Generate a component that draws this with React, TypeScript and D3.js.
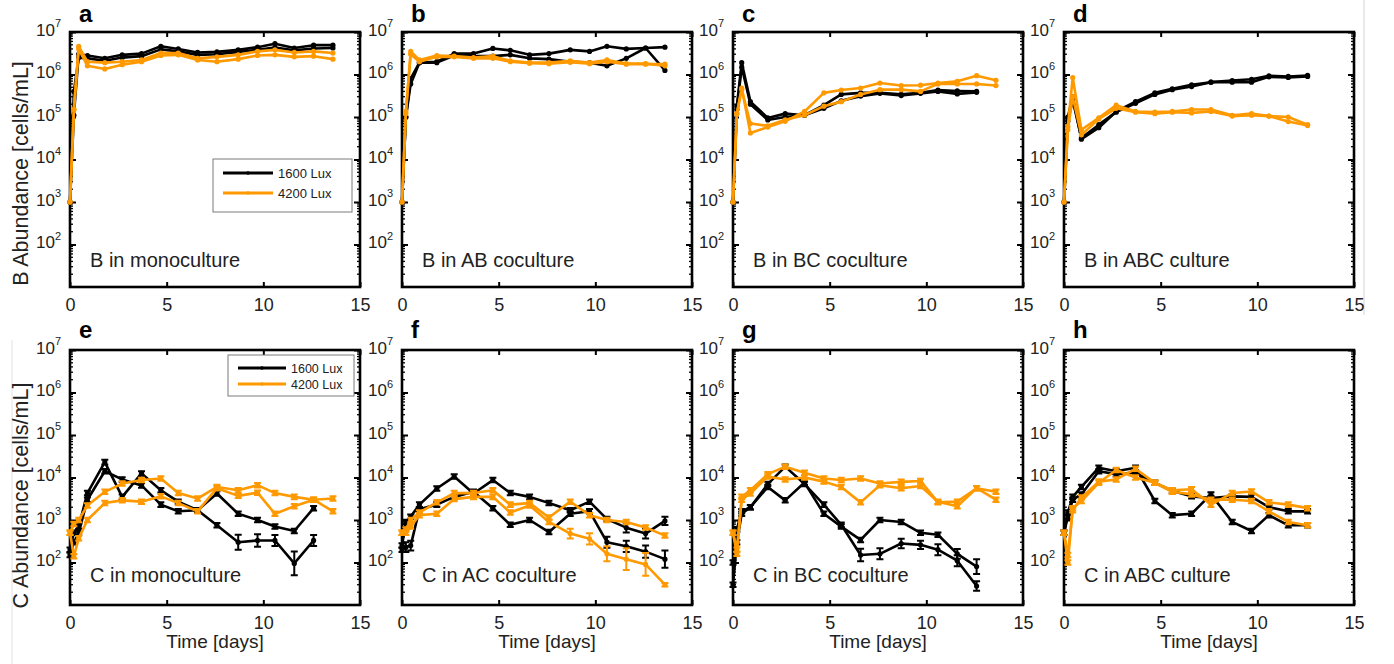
import React, { useEffect, useRef } from "react";
import * as d3 from "d3";

// sampling times [days]
const T = [0, 0.2, 0.45, 0.9, 1.8, 2.7, 3.7, 4.7, 5.6, 6.6, 7.6, 8.7, 9.7, 10.6, 11.6, 12.6, 13.6];

const xTicks = [0, 5, 10, 15];
const yTicks = [1e2, 1e3, 1e4, 1e5, 1e6, 1e7];
const legendLabels = ["1600 Lux", "4200 Lux"];

// ---- B abundance (top row)
const aBlack1 = [1e3, 1.1e5, 3.0e6, 2.8e6, 2.4e6, 2.9e6, 3.1e6, 4.6e6, 4.0e6, 3.3e6, 3.4e6, 3.8e6, 4.4e6, 5.3e6, 4.2e6, 4.9e6, 4.9e6];
const aBlack2 = [1e3, 4e5, 2.5e6, 2.4e6, 2.1e6, 2.5e6, 2.7e6, 3.9e6, 3.5e6, 2.9e6, 3.0e6, 3.4e6, 3.8e6, 4.3e6, 3.7e6, 4.1e6, 4.2e6];
const aOrange1 = [1e3, 1.5e5, 4.6e6, 2.0e6, 1.9e6, 2.0e6, 2.2e6, 3.2e6, 3.2e6, 2.4e6, 2.6e6, 2.9e6, 3.5e6, 3.8e6, 3.3e6, 3.5e6, 3.2e6];
const aOrange2 = [1e3, 1.5e5, 4.0e6, 1.6e6, 1.35e6, 1.7e6, 2.0e6, 2.8e6, 2.9e6, 2.2e6, 2.0e6, 2.3e6, 2.8e6, 2.9e6, 2.6e6, 2.7e6, 2.3e6];

const bBlack1 = [1e3, 1e5, 8e5, 1.9e6, 2.0e6, 3.1e6, 3.1e6, 4.1e6, 3.7e6, 2.9e6, 3.1e6, 3.8e6, 3.5e6, 4.6e6, 4.0e6, 4.2e6, 4.4e6];
const bBlack2 = [1e3, 1e5, 6e5, 1.9e6, 1.9e6, 2.8e6, 2.7e6, 2.7e6, 2.9e6, 2.4e6, 2.3e6, 2.0e6, 1.9e6, 1.6e6, 2.4e6, 4.2e6, 1.25e6];
const bOrange1 = [1e3, 1.35e5, 3.5e6, 2.2e6, 2.8e6, 2.7e6, 2.5e6, 2.7e6, 2.1e6, 1.9e6, 1.9e6, 2.1e6, 1.9e6, 2.2e6, 1.8e6, 1.8e6, 1.6e6];
const bOrange2 = [1e3, 1.2e5, 3.0e6, 2.0e6, 2.6e6, 2.6e6, 2.4e6, 2.4e6, 2.0e6, 1.85e6, 1.8e6, 1.95e6, 1.8e6, 2.0e6, 1.75e6, 1.75e6, 1.75e6];

const cBlack1 = [1e3, 1.8e5, 1.9e6, 2.3e5, 9.5e4, 1.2e5, 1.1e5, 1.9e5, 3.4e5, 3.7e5, 3.7e5, 3.4e5, 3.7e5, 4.3e5, 4.1e5, 4.0e5];
const cBlack2 = [1e3, 1.5e5, 1.5e6, 2.0e5, 8.5e4, 1.0e5, 1.1e5, 1.6e5, 2.4e5, 3.1e5, 3.6e5, 3.2e5, 3.6e5, 4.0e5, 3.5e5, 3.8e5];
const cOrange1 = [1e3, 1.2e5, 4.8e5, 4.2e4, 5.8e4, 7.9e4, 1.35e5, 3.7e5, 4.3e5, 4.8e5, 6.3e5, 5.5e5, 5.6e5, 6.3e5, 6.9e5, 9.4e5, 7.3e5];
const cOrange2 = [1e3, 1.2e5, 4.5e5, 7e4, 6.2e4, 8.6e4, 1.1e5, 1.8e5, 2.3e5, 3.4e5, 4.4e5, 4.4e5, 4.0e5, 6.0e5, 6.0e5, 6.0e5, 5.5e5];

const dBlack1 = [1e3, 1e5, 3e5, 3e4, 5.6e4, 1.35e5, 2.3e5, 3.7e5, 4.6e5, 5.7e5, 6.6e5, 7.2e5, 7.7e5, 9.3e5, 9.0e5, 9.5e5];
const dBlack2 = [1e3, 8e4, 2.5e5, 3.2e4, 6.6e4, 1.3e5, 2.1e5, 3.4e5, 4.4e5, 5.2e5, 6.6e5, 6.6e5, 6.6e5, 8.8e5, 8.5e5, 9.0e5];
const dOrange1 = [1e3, 6e4, 8.5e5, 5e4, 9.6e4, 1.9e5, 1.35e5, 1.3e5, 1.35e5, 1.5e5, 1.5e5, 1.1e5, 1.2e5, 1.05e5, 1.0e5, 6.6e4];
const dOrange2 = [1e3, 5e4, 3e5, 3.8e4, 9e4, 1.6e5, 1.3e5, 1.2e5, 1.3e5, 1.25e5, 1.35e5, 1.05e5, 1.1e5, 1.05e5, 7.8e4, 6.3e4];

// ---- C abundance (bottom row)
const eBlack1 = [2e2, 5e2, 7e2, 4.3e3, 2.3e4, 3.5e3, 1.25e4, 5e3, 2.7e3, 1.7e3, 4.2e3, 1.4e3, 1e3, 7e2, 5.5e2, 1.9e3];
const eBlack2 = [1.5e2, 3e2, 5e2, 3e3, 1.4e4, 9e3, 6.5e3, 2.3e3, 1.6e3, 1.7e3, 7.5e2, 3e2, 3.3e2, 3.3e2, 9.5e1, 3.3e2];
const eOrange1 = [5e2, 8e2, 1e3, 2.2e3, 4.6e3, 7.2e3, 8.7e3, 9.5e3, 4.3e3, 3.2e3, 6e3, 5e3, 6.6e3, 4.3e3, 3.5e3, 3e3, 3.2e3];
const eOrange2 = [5e2, 1.4e2, 3.7e2, 1e3, 2.5e3, 2.9e3, 2.7e3, 3.6e3, 2.5e3, 1.6e3, 5.6e3, 3.7e3, 4.4e3, 1.4e3, 2.1e3, 3e3, 1.6e3];

const fBlack1 = [2.5e2, 9e2, 1.2e3, 2.3e3, 5.5e3, 1.05e4, 4.2e3, 8.7e3, 4.3e3, 3.5e3, 2.5e3, 1.7e3, 2.7e3, 1.05e3, 6.6e2, 4.8e2, 9.5e2];
const fBlack2 = [2e2, 2.3e2, 2.5e2, 1.8e3, 2.3e3, 3.5e3, 4.6e3, 1.9e3, 7.7e2, 1e3, 5.2e2, 1.4e3, 1.6e3, 3e2, 2.4e2, 1.8e2, 1.2e2];
const fOrange1 = [5e2, 6e2, 1e3, 1.5e3, 2.6e3, 4.3e3, 4.3e3, 5e3, 2.3e3, 2.5e3, 1.15e3, 2.7e3, 1.3e3, 1e3, 9e2, 6.7e2, 4.3e2];
const fOrange2 = [5e2, 5e2, 7e2, 1.3e3, 1.4e3, 3.1e3, 3.5e3, 3.5e3, 1.5e3, 2.2e3, 9e2, 4.8e2, 3.6e2, 1.6e2, 1.2e2, 9e1, 3e1];

const gBlack1 = [1e2, 6e2, 1.6e3, 2e3, 6e3, 2.9e3, 7.6e3, 1.4e3, 7e2, 3.4e2, 1e3, 9e2, 5e2, 4.5e2, 1.6e2, 8e1];
const gBlack2 = [3e1, 3e2, 1.4e3, 2e3, 7e3, 1.8e4, 7e3, 2.3e3, 7.7e2, 1.5e2, 1.6e2, 2.8e2, 2.6e2, 2e2, 1.1e2, 2.8e1];
const gOrange1 = [5e2, 1.6e2, 3.5e3, 5e3, 1.2e4, 1.8e4, 1.3e4, 9.5e3, 8.7e3, 9.5e3, 7.2e3, 7.9e3, 8.3e3, 2.6e3, 2.7e3, 5.6e3, 4.6e3];
const gOrange2 = [5e2, 2e2, 3e3, 4.2e3, 1.05e4, 9e3, 1e4, 8e3, 6e3, 2.6e3, 6.6e3, 5.6e3, 6.3e3, 2.7e3, 2.1e3, 5.6e3, 3e3];

const hBlack1 = [5e2, 1.5e3, 3.5e3, 6e3, 1.7e4, 1.4e4, 1.7e4, 2.8e3, 1.3e3, 1.4e3, 4e3, 9e2, 5.5e2, 1.3e3, 7.5e2, 7.5e2];
const hBlack2 = [5e2, 1.2e3, 3e3, 4e3, 1.4e4, 1.2e4, 1.3e4, 7.5e3, 4.8e3, 3.6e3, 3.3e3, 3.6e3, 3.5e3, 2e3, 1.6e3, 1.6e3];
const hOrange1 = [5e2, 1e2, 1.9e3, 2.8e3, 7.5e3, 1.5e4, 1e4, 7.5e3, 5e3, 5.3e3, 2.3e3, 4.3e3, 4.7e3, 2.6e3, 2.3e3, 1.9e3];
const hOrange2 = [5e2, 1.5e2, 1.7e3, 3.4e3, 8e3, 9e3, 1.6e4, 7.5e3, 4.6e3, 4e3, 3e3, 3e3, 2.8e3, 1.6e3, 9e2, 7.5e2];

// error bar factors (multiplicative half-width) for bottom row, 0 = default
const eBlack2Err = [0, 0, 0, 0, 0, 0, 0, 0, 0, 0, 0, 1.5, 1.4, 1.35, 1.9, 1.35];
const fBlack1Err = [0, 0, 0, 0, 0, 0, 0, 0, 0, 0, 0, 0, 0, 0, 1.3, 1.3, 1.25];
const fBlack2Err = [0, 1.3, 1.3, 0, 0, 0, 0, 0, 0, 0, 0, 0, 0, 1.35, 1.35, 1.4, 1.6];
const fOrange2Err = [0, 0, 0, 0, 0, 0, 0, 0, 0, 0, 0, 1.3, 1.35, 1.5, 1.8, 1.85, 1.1];
const gBlack1Err = [0, 0, 0, 0, 0, 0, 0, 0, 0, 0, 0, 0, 0, 0, 1.3, 1.5];
const gBlack2Err = [0, 0, 0, 0, 0, 0, 0, 0, 0, 1.4, 1.35, 1.3, 1.25, 1.35, 1.35, 1.3];

const BLACK = "#000000";
const ORANGE = "#FF9900";
const FONT = "'Liberation Sans', Arial, Helvetica, sans-serif";

type Series = { v: number[]; color: string; err?: number[] };
type Panel = { letter: string; label: string; row: number; col: number; series: Series[] };

const panels: Panel[] = [
  { letter: "a", label: "B in monoculture", row: 0, col: 0, series: [
    { v: aBlack1, color: BLACK }, { v: aBlack2, color: BLACK }, { v: aOrange1, color: ORANGE }, { v: aOrange2, color: ORANGE }] },
  { letter: "b", label: "B in AB coculture", row: 0, col: 1, series: [
    { v: bBlack1, color: BLACK }, { v: bBlack2, color: BLACK }, { v: bOrange1, color: ORANGE }, { v: bOrange2, color: ORANGE }] },
  { letter: "c", label: "B in BC coculture", row: 0, col: 2, series: [
    { v: cBlack1, color: BLACK }, { v: cBlack2, color: BLACK }, { v: cOrange1, color: ORANGE }, { v: cOrange2, color: ORANGE }] },
  { letter: "d", label: "B in ABC culture", row: 0, col: 3, series: [
    { v: dBlack1, color: BLACK }, { v: dBlack2, color: BLACK }, { v: dOrange1, color: ORANGE }, { v: dOrange2, color: ORANGE }] },
  { letter: "e", label: "C in monoculture", row: 1, col: 0, series: [
    { v: eBlack1, color: BLACK }, { v: eBlack2, color: BLACK, err: eBlack2Err }, { v: eOrange1, color: ORANGE }, { v: eOrange2, color: ORANGE }] },
  { letter: "f", label: "C in AC coculture", row: 1, col: 1, series: [
    { v: fBlack1, color: BLACK, err: fBlack1Err }, { v: fBlack2, color: BLACK, err: fBlack2Err }, { v: fOrange1, color: ORANGE }, { v: fOrange2, color: ORANGE, err: fOrange2Err }] },
  { letter: "g", label: "C in BC coculture", row: 1, col: 2, series: [
    { v: gBlack1, color: BLACK, err: gBlack1Err }, { v: gBlack2, color: BLACK, err: gBlack2Err }, { v: gOrange1, color: ORANGE }, { v: gOrange2, color: ORANGE }] },
  { letter: "h", label: "C in ABC culture", row: 1, col: 3, series: [
    { v: hBlack1, color: BLACK }, { v: hBlack2, color: BLACK }, { v: hOrange1, color: ORANGE }, { v: hOrange2, color: ORANGE }] },
];

const rowTitles = ["B Abundance [cells/mL]", "C Abundance [cells/mL]"];

export default function App() {
  const ref = useRef<SVGSVGElement>(null);

  useEffect(() => {
    document.body.style.margin = "0";
    const svg = d3.select(ref.current);
    svg.selectAll("*").remove();

    const lefts = [70, 402, 733, 1064];
    const tops = [32, 350];
    const W = 290;
    const H = 255;

    // faint crop edges from the original figure
    svg.append("line").attr("x1", 1364).attr("x2", 1364).attr("y1", 0).attr("y2", 315).attr("stroke", "#d4d4d4");
    svg.append("line").attr("x1", 12).attr("x2", 12).attr("y1", 340).attr("y2", 664).attr("stroke", "#e2e2e2");

    panels.forEach((p) => {
      const left = lefts[p.col];
      const top = tops[p.row];
      const x = d3.scaleLinear().domain([0, 15]).range([left, left + W]);
      const y = d3.scaleLog().domain([10, 1e7]).range([top + H, top]);
      const g = svg.append("g");

      // frame
      g.append("rect").attr("x", left).attr("y", top).attr("width", W).attr("height", H)
        .attr("fill", "none").attr("stroke", "#000").attr("stroke-width", 2.6);

      // x axis
      const xa = g.append("g").attr("transform", `translate(0,${top + H})`)
        .call(d3.axisBottom(x).tickValues(xTicks).tickSize(-5).tickPadding(11).tickFormat(d3.format("d")));
      xa.select(".domain").remove();
      xa.selectAll("line").attr("stroke-width", 2);
      xa.selectAll("text").attr("font-size", 18).attr("font-family", FONT).attr("fill", "#222");
      const xt = g.append("g").attr("transform", `translate(0,${top})`)
        .call(d3.axisTop(x).tickValues(xTicks).tickSize(-5).tickFormat(() => ""));
      xt.select(".domain").remove();
      xt.selectAll("line").attr("stroke-width", 2);

      // y axis left with superscript labels
      const ya = g.append("g").attr("transform", `translate(${left},0)`)
        .call(d3.axisLeft(y).tickValues(yTicks).tickSize(-6).tickPadding(9));
      ya.select(".domain").remove();
      ya.selectAll("line").attr("stroke-width", 2);
      ya.selectAll<SVGTextElement, number>("text").each(function (d) {
        const t = d3.select(this);
        t.text(null).attr("font-family", FONT).attr("fill", "#222").attr("dy", "0.32em");
        t.append("tspan").attr("font-size", 17).text("10");
        t.append("tspan").attr("font-size", 11).attr("dy", "-0.75em").text(String(Math.round(Math.log10(d))));
      });
      const yr = g.append("g").attr("transform", `translate(${left + W},0)`)
        .call(d3.axisRight(y).tickValues(yTicks).tickSize(-6).tickFormat(() => ""));
      yr.select(".domain").remove();
      yr.selectAll("line").attr("stroke-width", 2);

      // minor log ticks
      const minors: number[] = [];
      for (let k = 1; k < 7; k++) for (let m = 2; m <= 9; m++) minors.push(m * Math.pow(10, k));
      [left, left + W].forEach((ex, side) => {
        g.selectAll(null).data(minors).join("line")
          .attr("x1", ex).attr("x2", side === 0 ? ex + 3 : ex - 3)
          .attr("y1", (d) => y(d)).attr("y2", (d) => y(d))
          .attr("stroke", "#000").attr("stroke-width", 1.3);
      });

      // panel letter
      g.append("text").attr("x", left + 9).attr("y", top - (p.row === 0 ? 10 : 12))
        .attr("font-family", FONT).attr("font-weight", "bold").attr("font-size", 24).text(p.letter);

      // condition label
      g.append("text").attr("x", left + 20).attr("y", top + H - (p.row === 0 ? 20 : 23))
        .attr("font-family", FONT).attr("font-size", 20).attr("fill", "#222").text(p.label);

      // data
      const line = d3.line<number>().x((_, i) => x(T[i])).y((d) => y(d));
      const ordered = [...p.series.filter((s) => s.color === BLACK), ...p.series.filter((s) => s.color === ORANGE)];
      ordered.forEach((s) => {
        const sg = g.append("g");
        if (p.row === 1) {
          const bars = s.v.map((v, i) => {
            const f = s.err && s.err[i] ? s.err[i] : 1.13;
            return { t: T[i], lo: v / f, hi: v * f };
          });
          sg.selectAll(null).data(bars).join("path")
            .attr("d", (b) => {
              const cx = x(b.t), y0 = y(b.lo), y1 = y(b.hi);
              return `M${cx},${y0}V${y1}M${cx - 3.5},${y0}H${cx + 3.5}M${cx - 3.5},${y1}H${cx + 3.5}`;
            })
            .attr("stroke", s.color).attr("stroke-width", 2).attr("fill", "none");
        }
        sg.append("path").attr("d", line(s.v)).attr("fill", "none").attr("stroke", s.color)
          .attr("stroke-width", 2.6).attr("stroke-linejoin", "round");
        sg.selectAll(null).data(s.v).join("circle")
          .attr("cx", (_, i) => x(T[i])).attr("cy", (d) => y(d)).attr("r", 2.6).attr("fill", s.color);
      });
    });

    // legends
    const legends = [
      { x: 213, y: 159, w: 139, h: 53, l0: 223, l1: 273, r0: 173, gap: 20, fs: 13 },
      { x: 228, y: 355, w: 126, h: 41, l0: 238, l1: 286, r0: 368, gap: 16, fs: 12.5 },
    ];
    legends.forEach((L) => {
      const lg = svg.append("g");
      lg.append("rect").attr("x", L.x).attr("y", L.y).attr("width", L.w).attr("height", L.h)
        .attr("fill", "#fff").attr("stroke", "#7a7a7a").attr("stroke-width", 1);
      legendLabels.forEach((lab, i) => {
        const yy = L.r0 + i * L.gap;
        const c = i === 0 ? BLACK : ORANGE;
        lg.append("line").attr("x1", L.l0).attr("x2", L.l1).attr("y1", yy).attr("y2", yy)
          .attr("stroke", c).attr("stroke-width", 3);
        lg.append("circle").attr("cx", (L.l0 + L.l1) / 2).attr("cy", yy).attr("r", 1.8).attr("fill", c);
        lg.append("text").attr("x", L.l1 + 5).attr("y", yy + 4.5).attr("font-family", FONT)
          .attr("font-size", L.fs).attr("fill", "#222").text(lab);
      });
    });

    // row titles
    rowTitles.forEach((t, r) => {
      const cy = tops[r] + H / 2 + (r === 0 ? 14 : 18);
      svg.append("text").attr("transform", `translate(28,${cy}) rotate(-90)`)
        .attr("text-anchor", "middle").attr("font-family", FONT).attr("font-size", 21.5)
        .attr("fill", "#222").text(t);
    });

    // x titles
    lefts.forEach((l) => {
      svg.append("text").attr("x", l + W / 2).attr("y", 648).attr("text-anchor", "middle")
        .attr("font-family", FONT).attr("font-size", 19).attr("fill", "#222").text("Time [days]");
    });
  }, []);

  return <svg ref={ref} width={1394} height={664} style={{ display: "block", background: "#fff" }} />;
}
